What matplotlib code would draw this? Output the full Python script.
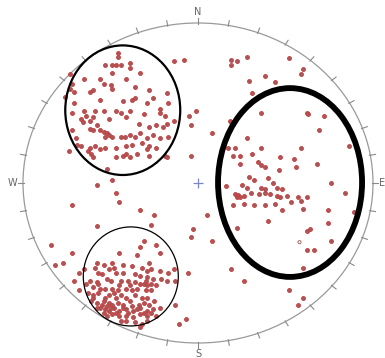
import numpy as np
import matplotlib.pyplot as plt
from matplotlib.patches import Ellipse

nw_pts = [
    (-0.46, 0.81), (-0.46, 0.79), (-0.53, 0.74), (-0.49, 0.74), (-0.47, 0.74), (-0.44, 0.74), (-0.39, 0.75), (-0.39, 0.72),
    (-0.49, 0.69), (-0.33, 0.69), (-0.14, 0.76), (-0.08, 0.77), (-0.65, 0.65), (-0.56, 0.65), (-0.54, 0.62), (-0.50, 0.61),
    (-0.49, 0.59), (-0.41, 0.65), (-0.36, 0.60), (-0.28, 0.58), (-0.18, 0.56), (-0.60, 0.58), (-0.62, 0.57), (-0.73, 0.68),
    (-0.72, 0.62), (-0.73, 0.59), (-0.71, 0.57), (-0.76, 0.54), (-0.56, 0.52), (-0.43, 0.51), (-0.38, 0.52), (-0.36, 0.53),
    (-0.29, 0.50), (-0.22, 0.46), (-0.17, 0.50), (-0.26, 0.53), (-0.71, 0.50), (-0.72, 0.44), (-0.65, 0.45), (-0.59, 0.45),
    (-0.54, 0.45), (-0.47, 0.45), (-0.44, 0.44), (-0.39, 0.45), (-0.31, 0.43), (-0.22, 0.44), (-0.19, 0.42), (-0.14, 0.39),
    (-0.01, 0.45), (-0.05, 0.42), (-0.04, 0.36), (-0.67, 0.40), (-0.64, 0.42), (-0.62, 0.39), (-0.60, 0.41), (-0.66, 0.38),
    (-0.58, 0.36), (-0.51, 0.40), (-0.41, 0.41), (-0.34, 0.37), (-0.28, 0.35), (-0.24, 0.36), (-0.20, 0.35), (-0.18, 0.37),
    (-0.62, 0.34), (-0.60, 0.33), (-0.56, 0.33), (-0.54, 0.32), (-0.52, 0.31), (-0.51, 0.30), (-0.53, 0.29), (-0.49, 0.29),
    (-0.44, 0.29), (-0.42, 0.29), (-0.39, 0.30), (-0.36, 0.29), (-0.33, 0.31), (-0.29, 0.28), (-0.26, 0.30), (-0.22, 0.28),
    (-0.17, 0.29), (-0.72, 0.33), (-0.70, 0.28), (-0.69, 0.24), (-0.67, 0.23), (-0.62, 0.22), (-0.59, 0.23), (-0.56, 0.21),
    (-0.53, 0.22), (-0.47, 0.22), (-0.41, 0.23), (-0.38, 0.24), (-0.32, 0.25), (-0.28, 0.23), (-0.29, 0.21), (-0.24, 0.22),
    (-0.19, 0.17), (-0.18, 0.16), (-0.74, 0.20), (-0.63, 0.20), (-0.61, 0.18), (-0.60, 0.16), (-0.47, 0.16), (-0.43, 0.17),
    (-0.41, 0.18), (-0.39, 0.16), (-0.35, 0.18), (-0.28, 0.17), (-0.52, 0.09), (-0.58, -0.01), (-0.49, 0.02), (-0.04, 0.17),
    (-0.47, -0.06),
]

sw_pts = [
    (-0.72, -0.14), (-0.45, -0.12), (-0.33, -0.17), (-0.25, -0.20), (-0.27, -0.26), (-0.58, -0.27), (-0.03, -0.29), (-0.04, -0.34),
    (-0.72, -0.44), (-0.77, -0.50), (-0.45, -0.44), (-0.33, -0.40), (-0.24, -0.39), (-0.22, -0.44), (-0.31, -0.36), (-0.28, -0.50),
    (-0.35, -0.45), (-0.49, -0.50), (-0.43, -0.51), (-0.58, -0.50), (-0.59, -0.53), (-0.54, -0.51), (-0.51, -0.54), (-0.48, -0.53),
    (-0.38, -0.52), (-0.32, -0.53), (-0.29, -0.55), (-0.27, -0.54), (-0.22, -0.55), (-0.17, -0.56), (-0.14, -0.54), (-0.06, -0.56),
    (-0.13, -0.61), (-0.21, -0.60), (-0.18, -0.61), (-0.68, -0.56), (-0.65, -0.54), (-0.57, -0.56), (-0.55, -0.57), (-0.47, -0.56),
    (-0.43, -0.56), (-0.36, -0.57), (-0.33, -0.58), (-0.29, -0.59), (-0.26, -0.60), (-0.71, -0.61), (-0.62, -0.61), (-0.58, -0.62),
    (-0.52, -0.60), (-0.50, -0.61), (-0.44, -0.61), (-0.40, -0.61), (-0.36, -0.62), (-0.31, -0.63), (-0.29, -0.64), (-0.24, -0.64),
    (-0.68, -0.67), (-0.60, -0.65), (-0.56, -0.66), (-0.53, -0.66), (-0.49, -0.66), (-0.46, -0.67), (-0.41, -0.66), (-0.38, -0.67),
    (-0.35, -0.66), (-0.30, -0.67), (-0.27, -0.67), (-0.63, -0.69), (-0.60, -0.72), (-0.57, -0.69), (-0.53, -0.72), (-0.51, -0.70),
    (-0.47, -0.72), (-0.44, -0.70), (-0.41, -0.72), (-0.36, -0.70), (-0.32, -0.72), (-0.29, -0.72), (-0.25, -0.74), (-0.61, -0.74),
    (-0.58, -0.75), (-0.55, -0.76), (-0.51, -0.75), (-0.49, -0.76), (-0.46, -0.75), (-0.43, -0.76), (-0.39, -0.74), (-0.34, -0.76),
    (-0.31, -0.75), (-0.28, -0.76), (-0.56, -0.78), (-0.53, -0.79), (-0.51, -0.80), (-0.48, -0.78), (-0.45, -0.80), (-0.41, -0.79),
    (-0.37, -0.80), (-0.33, -0.78), (-0.29, -0.80), (-0.26, -0.79), (-0.22, -0.78), (-0.13, -0.76), (-0.52, -0.83), (-0.49, -0.82),
    (-0.45, -0.83), (-0.41, -0.83), (-0.37, -0.84), (-0.33, -0.82), (-0.29, -0.83), (-0.54, -0.81), (-0.32, -0.88), (-0.33, -0.90),
    (-0.11, -0.88), (-0.07, -0.85), (-0.29, -0.86), (-0.36, -0.87), (-0.41, -0.86), (-0.44, -0.86), (-0.24, -0.83), (-0.84, -0.39),
    (-0.82, -0.51), (-0.60, -0.70), (-0.58, -0.78), (-0.54, -0.74), (-0.50, -0.78), (-0.47, -0.81), (-0.43, -0.78), (-0.40, -0.81),
    (-0.38, -0.77), (-0.35, -0.79), (-0.31, -0.81), (-0.27, -0.81), (-0.48, -0.69), (-0.45, -0.64), (-0.39, -0.64), (-0.33, -0.63),
    (-0.30, -0.61), (-0.27, -0.63), (-0.57, -0.63), (-0.64, -0.63), (-0.52, -0.77),
]

e_pts = [
    (0.19, 0.77), (0.19, 0.74), (0.22, 0.76), (0.28, 0.79), (0.52, 0.78), (0.60, 0.71), (0.59, 0.68), (0.29, 0.64),
    (0.38, 0.67), (0.44, 0.63), (0.31, 0.56), (0.36, 0.44), (0.62, 0.44), (0.63, 0.43), (0.72, 0.42), (0.18, 0.39),
    (0.19, 0.38), (0.20, 0.37), (0.08, 0.31), (0.69, 0.33), (0.28, 0.28), (0.17, 0.22), (0.21, 0.22), (0.36, 0.22),
    (0.59, 0.22), (0.86, 0.23), (0.20, 0.17), (0.24, 0.17), (0.31, 0.18), (0.47, 0.16), (0.55, 0.15), (0.34, 0.13),
    (0.36, 0.11), (0.38, 0.10), (0.24, 0.12), (0.56, 0.10), (0.68, 0.12), (0.46, 0.08), (0.29, 0.04), (0.32, 0.02),
    (0.40, 0.03), (0.43, 0.00), (0.76, 0.00), (0.16, -0.02), (0.25, -0.01), (0.28, -0.03), (0.36, -0.03), (0.38, -0.04),
    (0.45, -0.03), (0.48, -0.04), (0.84, -0.06), (0.22, -0.08), (0.21, -0.07), (0.23, -0.075), (0.22, -0.09), (0.24, -0.09),
    (0.26, -0.08), (0.30, -0.06), (0.35, -0.07), (0.38, -0.06), (0.41, -0.07), (0.45, -0.08), (0.47, -0.09), (0.51, -0.08),
    (0.57, -0.09), (0.59, -0.11), (0.62, -0.09), (0.26, -0.13), (0.32, -0.14), (0.38, -0.14), (0.44, -0.13), (0.20, -0.14),
    (0.05, -0.20), (0.53, -0.12), (0.60, -0.16), (0.74, -0.17), (0.89, -0.18), (0.48, -0.17), (0.40, -0.24), (0.22, -0.28),
    (0.74, -0.25), (0.64, -0.29), (0.62, -0.30), (0.08, -0.36), (0.76, -0.36), (0.62, -0.42), (0.66, -0.42), (0.60, -0.53),
    (0.19, -0.54), (0.26, -0.61), (0.52, -0.67), (0.60, -0.72), (0.57, -0.76),
]

open_pts = [(0.58, -0.37)]

# hand-drawn cluster outlines: (east, north, width, height, line width)
outlines = [
    (-0.43, 0.455, 0.657, 0.81, 1.6),
    (0.526, 0.003, 0.823, 1.18, 4.2),
    (-0.384, -0.584, 0.543, 0.619, 0.9),
]

directions = ["N", "E", "S", "W"]
tick_step = 10  # degrees

fig = plt.figure(figsize=(3.85, 3.58), dpi=100)
ax = fig.add_axes([23 / 385, 15 / 358, 350 / 385, 320 / 358])
ax.set_xlim(-1, 1)
ax.set_ylim(-1, 1)
ax.axis("off")

# primitive circle with 10 degree ticks
ax.add_patch(Ellipse((0, 0), 2, 2, fill=False, edgecolor="#9a9a9a", lw=0.9, clip_on=False))
for az in np.radians(np.arange(0, 360, tick_step)):
    ax.plot([0.995 * np.sin(az), 1.03 * np.sin(az)], [0.995 * np.cos(az), 1.03 * np.cos(az)],
            color="#8a8a8a", lw=0.8, clip_on=False)

label_pos = {"N": (0, 1.035, "center", "bottom"), "E": (1.032, 0, "left", "center"),
             "S": (0, -1.035, "center", "top"), "W": (-1.032, 0, "right", "center")}
for label in directions:
    x, y, ha, va = label_pos[label]
    ax.text(x, y, label, ha=ha, va=va, fontsize=7, color="#666666", clip_on=False)

ax.plot(0, 0, marker="+", color="#7f86c8", ms=7, mew=0.9)

for pts in (nw_pts, sw_pts, e_pts):
    xy = np.array(pts)
    ax.scatter(xy[:, 0], xy[:, 1], s=8, facecolor="#a8585a", edgecolor="#c93c3c", linewidth=0.6, zorder=3)

xy = np.array(open_pts)
ax.scatter(xy[:, 0], xy[:, 1], s=5, facecolor="none", edgecolor="#a05050", linewidth=0.6, zorder=3)

for x, y, w, h, lw in outlines:
    ax.add_patch(Ellipse((x, y), w, h, fill=False, edgecolor="black", lw=lw, zorder=4))

fig.savefig("out.png", dpi=100)
